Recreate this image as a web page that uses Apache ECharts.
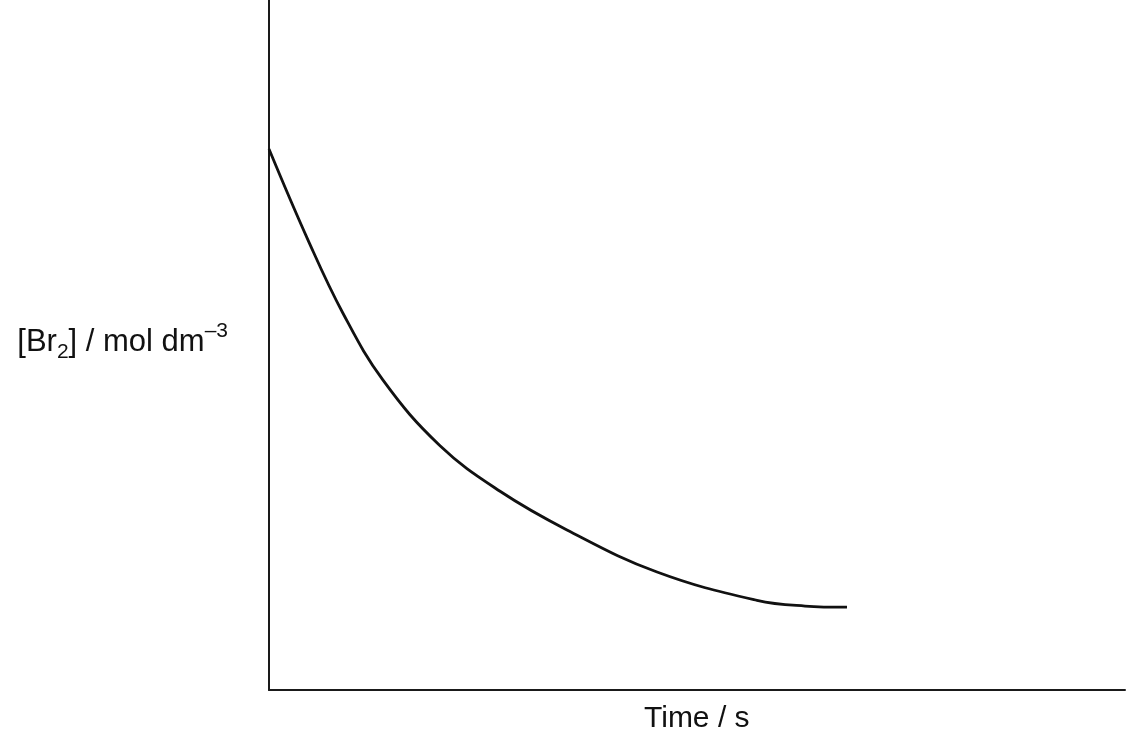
<!DOCTYPE html>
<html>
<head>
<meta charset="utf-8">
<script src="https://cdn.jsdelivr.net/npm/echarts@6/dist/echarts.min.js"></script>
<style>html,body{margin:0;padding:0;background:#fff;}#c{width:1136px;height:750px;}</style>
</head>
<body>
<div id="c"></div>
<script>
// Schematic data (arbitrary units, axes 0..100)
const timeValues = [0, 4.56, 8.64, 13.32, 19.98, 26.99, 34.81, 45.33, 57.01, 62.62, 67.52];
const br2Values  = [78.4, 65.2, 54.6, 44.9, 35.4, 28.8, 23.2, 17.1, 13.0, 12.17, 12.0];
const xAxisName = 'Time / s';
const yAxisNameParts = ['[Br', '2', '] / mol dm', '–3'];

const data = timeValues.map((t, i) => [t, br2Values[i]]);
const chart = echarts.init(document.getElementById('c'));
const axisCommon = {
  type: 'value', min: 0, max: 100,
  axisLine: { show: true, onZero: false, lineStyle: { color: '#1a1a1a', width: 2 } },
  axisTick: { show: false }, axisLabel: { show: false }, splitLine: { show: false }
};
const fam = '"Liberation Sans", Arial, sans-serif';
chart.setOption({
  animation: false,
  backgroundColor: '#ffffff',
  grid: { left: 269, right: 11, top: 0, bottom: 60 },
  xAxis: Object.assign({}, axisCommon),
  yAxis: Object.assign({}, axisCommon),
  series: [{
    type: 'line', data: data, smooth: 0.4, showSymbol: false,
    lineStyle: { color: '#111111', width: 2.8 }
  }],
  graphic: [
    {
      type: 'text', left: 644, top: 704,
      style: { text: xAxisName, font: '30px ' + fam, fill: '#111' }
    },
    {
      type: 'text', right: 1136 - 228, top: 321,
      style: {
        text: '{n|' + yAxisNameParts[0] + '}{sub|' + yAxisNameParts[1] + '}{n|' + yAxisNameParts[2] + '}{sup|' + yAxisNameParts[3] + '}',
        fill: '#111',
        rich: {
          n: { fontFamily: fam, fontSize: 31, lineHeight: 42, verticalAlign: 'middle', fill: '#111' },
          sub: { fontFamily: fam, fontSize: 21, lineHeight: 42, verticalAlign: 'bottom', fill: '#111' },
          sup: { fontFamily: fam, fontSize: 21, lineHeight: 42, verticalAlign: 'top', fill: '#111' }
        }
      }
    }
  ]
});
</script>
</body>
</html>
